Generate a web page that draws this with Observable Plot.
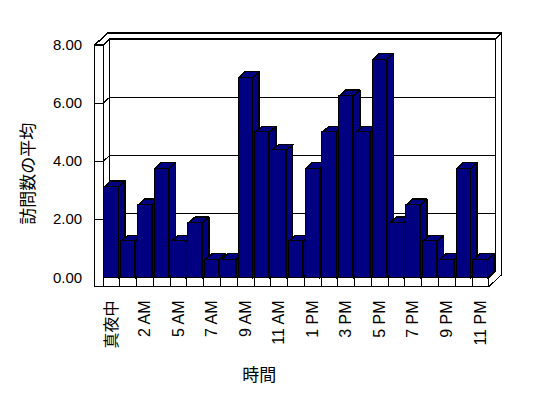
<!DOCTYPE html>
<html>
<head>
<meta charset="utf-8">
<script src="https://cdn.jsdelivr.net/npm/d3@7"></script>
<script src="https://cdn.jsdelivr.net/npm/@observablehq/plot@0.6"></script>
<style>
  body { margin: 0; background: #fff; }
  svg path, svg rect, svg line { shape-rendering: crispEdges; }
  svg text { -webkit-font-smoothing: antialiased; opacity: 0.999; }
</style>
</head>
<body>
<div id="chart"></div>
<script>
// ---- data ----
const hours = ["真夜中","1 AM","2 AM","3 AM","5 AM","6 AM","7 AM","8 AM","9 AM","10 AM","11 AM","正午",
               "1 PM","2 PM","3 PM","4 PM","5 PM","6 PM","7 PM","8 PM","9 PM","10 PM","11 PM"];
const visits = [3.125, 1.25, 2.5, 3.75, 1.25, 1.875, 0.625, 0.625, 6.875, 5.0, 4.375, 1.25,
                3.75, 5.0, 6.25, 5.0, 7.5, 1.875, 2.5, 1.25, 0.625, 3.75, 0.625];
const yTicks = [0, 2, 4, 6, 8];
const yTitle = "訪問数の平均";
const xTitle = "時間";

// ---- 3D geometry (in scale units) ----
const dX = 0.388, dY = 0.206;   // depth vector
const fT = 0.30;                 // floor thickness
const hw = 0.42;                 // half bar width
const x0 = -0.5, xN = hours.length - 0.5, xL = -1;
const yMax = yTicks[yTicks.length - 1];
const NAVY = "#000080";

function rows(id, pts) { return pts.map(([x, y]) => ({id, x, y})); }

const backWall = rows("back", [[x0+dX, dY],[xN+dX, dY],[xN+dX, yMax+dY],[x0+dX, yMax+dY]]);
const leftInner = rows("left", [[x0,0],[x0,yMax],[x0+dX,yMax+dY],[x0+dX,dY]]);
const floorTop = rows("floor", [[x0,0],[xN,0],[xN+dX,dY],[x0+dX,dY]]);
const frontL = rows("front", [[xL,yMax],[x0,yMax],[x0,0],[xN,0],[xN,-fT],[xL,-fT]]);
const topL = rows("top", [[xL,yMax],[xL+2*dX,yMax+2*dY],[xN+2*dX,yMax+2*dY],[xN+dX,yMax+dY],[x0+dX,yMax+dY],[x0,yMax]]);
const rightFace = rows("right", [[xN,0],[xN+dX,dY],[xN+dX,yMax+dY],[xN+2*dX,yMax+2*dY],[xN+2*dX,-fT+2*dY],[xN,-fT]]);
const walls = [...backWall, ...leftInner, ...floorTop, ...frontL, ...rightFace];

const bars = visits.map((v, i) => ({i, v, label: hours[i]}));
const sides = bars.flatMap(b => rows("s"+b.i, [[b.i+hw,0],[b.i+hw,b.v],[b.i+hw+dX,b.v+dY],[b.i+hw+dX,dY]]));
const tops = bars.flatMap(b => rows("t"+b.i, [[b.i-hw,b.v],[b.i+hw,b.v],[b.i+hw+dX,b.v+dY],[b.i-hw+dX,b.v+dY]]));
const grid = yTicks.filter(t => t > 0 && t < yMax);
const seps = d3.range(hours.length).map(i => i - 0.5);
const shownLabels = bars.filter(b => b.i % 2 === 0);

const W = 548, H = 398;
const chart = Plot.plot({
  width: W, height: H,
  marginLeft: 94.2, marginRight: 34.5,
  marginTop: 44.5, marginBottom: 120.7,
  x: {type: "linear", domain: [xL, 24], axis: null},
  y: {type: "linear", domain: [0, yMax], axis: null},
  style: {fontFamily: "'Liberation Sans', Arial, 'Noto Sans CJK JP', sans-serif", background: "#fff"},
  marks: [
    Plot.line(walls, {x: "x", y: "y", z: "id", curve: "linear-closed", fill: "white", stroke: "black", strokeWidth: 1}),
    Plot.link(grid, {x1: () => x0+dX, y1: d => d+dY, x2: () => xN+dX, y2: d => d+dY, stroke: "black"}),
    Plot.link(grid, {x1: () => x0, y1: d => d, x2: () => x0+dX, y2: d => d+dY, stroke: "black"}),
    Plot.link(grid, {x1: () => xL, y1: d => d, x2: () => x0, y2: d => d, stroke: "black"}),
    Plot.ruleX(seps, {x: d => d, y1: () => 0, y2: () => -fT, stroke: "black"}),
    Plot.line(topL, {x: "x", y: "y", z: "id", curve: "linear-closed", fill: "white", stroke: "black"}),
    Plot.line(sides, {x: "x", y: "y", z: "id", curve: "linear-closed", fill: NAVY, stroke: "black"}),
    Plot.line(tops, {x: "x", y: "y", z: "id", curve: "linear-closed", fill: NAVY, stroke: "black"}),
    Plot.rect(bars, {x1: d => d.i - hw, x2: d => d.i + hw, y1: () => 0, y2: "v", fill: NAVY, stroke: "black"}),
    Plot.text(yTicks, {x: () => xL, y: d => d, text: d => d.toFixed(2), dx: -12.5, textAnchor: "end", fontSize: 15, fill: "black"}),
    Plot.text(shownLabels, {x: "i", y: () => -fT, text: "label", dy: 14, rotate: -90, textAnchor: "end", fontSize: 16, fill: "black"}),
    Plot.text([yTitle], {frameAnchor: "left", dx: -66, dy: 12.4, rotate: -90, textAnchor: "middle", lineAnchor: "middle",
                         fontSize: 17, fill: "black", fontFamily: "'Noto Sans CJK JP', sans-serif"}),
    Plot.text([xTitle], {frameAnchor: "bottom", dx: -45, dy: 98, textAnchor: "middle", lineAnchor: "middle",
                         fontSize: 17, fill: "black", fontFamily: "'Noto Sans CJK JP', sans-serif"})
  ]
});
document.getElementById("chart").appendChild(chart);
</script>
</body>
</html>
